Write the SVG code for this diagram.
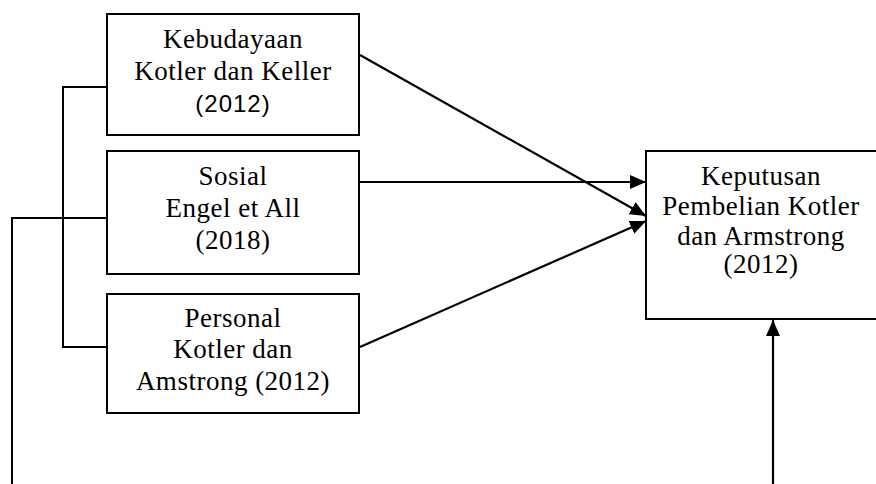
<svg xmlns="http://www.w3.org/2000/svg" width="876" height="484" viewBox="0 0 876 484">
<style>
.box{fill:#fff;stroke:#000;stroke-width:2}
.t{font-family:"Liberation Serif","Times New Roman",serif;font-size:27px;fill:#000;text-anchor:middle;letter-spacing:0.5px}
.s{font-family:"Liberation Sans",Arial,sans-serif;font-size:24px;fill:#000;text-anchor:middle;letter-spacing:1px}
.ln{fill:none;stroke:#000;stroke-width:2}
.ar{fill:none;stroke:#000;stroke-width:2.2;marker-end:url(#ah)}
</style>
<defs>
<marker id="ah" markerUnits="userSpaceOnUse" markerWidth="16" markerHeight="14" viewBox="0 0 16 14" refX="16" refY="7" orient="auto">
<path d="M0,0 L16,7 L0,14 Z" fill="#000"/>
</marker>
</defs>
<g id="connectors">
<polyline class="ln" points="107,87 63,87 63,347 107,347"/>
<polyline class="ln" points="107,218 12,218 12,484"/>
<line class="ar" x1="360" y1="55" x2="646" y2="216"/>
<line class="ar" x1="360" y1="182" x2="646" y2="182"/>
<line class="ar" x1="360" y1="347" x2="646" y2="221"/>
<line class="ar" x1="773" y1="484" x2="773" y2="320"/>
</g>
<g id="kebudayaan">
<rect class="box" x="107" y="14" width="252" height="121"/>
<text class="t" x="233" y="48">Kebudayaan</text>
<text class="t" x="233" y="80">Kotler dan Keller</text>
<text class="s" x="233" y="112">(2012)</text>
</g>
<g id="sosial">
<rect class="box" x="107" y="151" width="252" height="123"/>
<text class="t" x="233" y="185">Sosial</text>
<text class="t" x="233" y="217">Engel et All</text>
<text class="t" x="233" y="249">(2018)</text>
</g>
<g id="personal">
<rect class="box" x="107" y="294" width="252" height="119"/>
<text class="t" x="233" y="327">Personal</text>
<text class="t" x="233" y="358">Kotler dan</text>
<text class="t" x="233" y="390">Amstrong (2012)</text>
</g>
<g id="keputusan">
<rect class="box" x="646" y="151" width="240" height="168"/>
<text class="t" x="761" y="185">Keputusan</text>
<text class="t" x="761" y="215">Pembelian Kotler</text>
<text class="t" x="761" y="245">dan Armstrong</text>
<text class="t" x="761" y="273">(2012)</text>
</g>
</svg>
